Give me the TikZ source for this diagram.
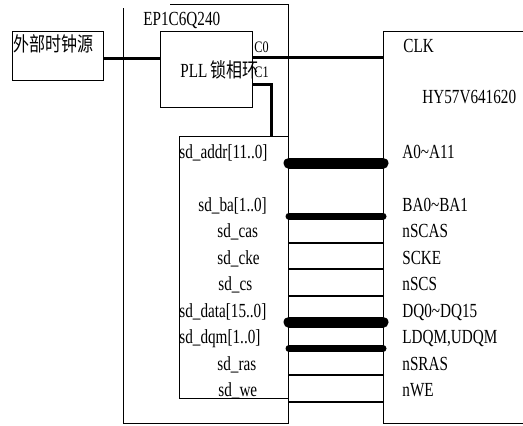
\documentclass[tikz,border=0pt]{standalone}
\usepackage{fontspec}
\setmainfont[FakeStretch=0.76]{Liberation Serif}
\newfontfamily\cjk[FakeStretch=0.8]{Noto Sans CJK SC}
\usetikzlibrary{positioning}

\begin{document}
\begin{tikzpicture}[x=0.5pt,y=-0.5pt,
    box/.style={draw,line width=0.5pt,inner sep=0pt,anchor=north west},
    lbl/.style={inner sep=0pt,anchor=base west,font=\fontsize{10pt}{12pt}\selectfont},
    pin/.style={lbl,font=\fontsize{8pt}{10pt}\selectfont},
    clkline/.style={line width=1.5pt}]
        % 1 unit = one pixel of the 523x425 picture
        \useasboundingbox (0,0) rectangle (523,425);

        % boxes
        \node[box,minimum width=45.5pt,minimum height=24.5pt] (ext) at (12,31) {};
        \node[box,minimum width=46pt,minimum height=38pt] (pll) at (160,31) {};
        \node[box,minimum width=54.5pt,minimum height=131pt] (sdbox) at (179,136) {};
        \node[box,minimum width=75pt,minimum height=196pt] (sdram) at (383,31) {};
        \draw[line width=0.5pt] (170,4) -| (288,423) -| (123,8); % EP1C6Q240

        \node[lbl] (extname) at (13,51) {\cjk 外部时钟源};
        \node[lbl] (pllname) at (180,77) {PLL\,{\cjk 锁相环}};
        \node[lbl] (fpganame) at (143,25) {EP1C6Q240};
        \node[pin] (c0name) at (254,52) {C0};
        \node[pin] (c1name) at (254,77) {C1};
        \node[lbl] (clkname) at (403,52) {CLK};
        \node[lbl] (sdramname) at (422,103) {HY57V641620};

        % clock
        \coordinate (c0) at (252,57);
        \coordinate (c1) at (252,84);
        \coordinate (sdclk) at (271,136);
        \draw[clkline] (ext.east |- 0,58) -- (pll.west |- 0,58);
        \draw[clkline] (c0) -- (c0 -| sdram.west);
        \draw[clkline] (c1) -| (sdclk);

        % sdram signals
        \foreach \y/\x/\a/\b/\w [count=\i] in {
            163/179/sd\_addr[11..0]/A0\textasciitilde A11/5.5,
            216/198/sd\_ba[1..0]/BA0\textasciitilde BA1/3.5,
            242.5/217/sd\_cas/nSCAS/1,
            269/217/sd\_cke/SCKE/1,
            295.5/218/sd\_cs/nSCS/1,
            322/179/sd\_data[15..0]/DQ0\textasciitilde DQ15/5.5,
            348.5/179/sd\_dqm[1..0]/{LDQM,UDQM}/3.5,
            375/217/sd\_ras/nSRAS/1,
            401.5/218/sd\_we/nWE/1}{
            \node[lbl] (sdl\i) at (\x,\y-5) {\a};
            \node[lbl] (sdr\i) at (402,\y-5) {\b};
            \draw[line width=\w pt,line cap=round] (sdbox.east |- 0,\y) -- (sdram.west |- 0,\y);
        }
    \end{tikzpicture}
\end{document}
